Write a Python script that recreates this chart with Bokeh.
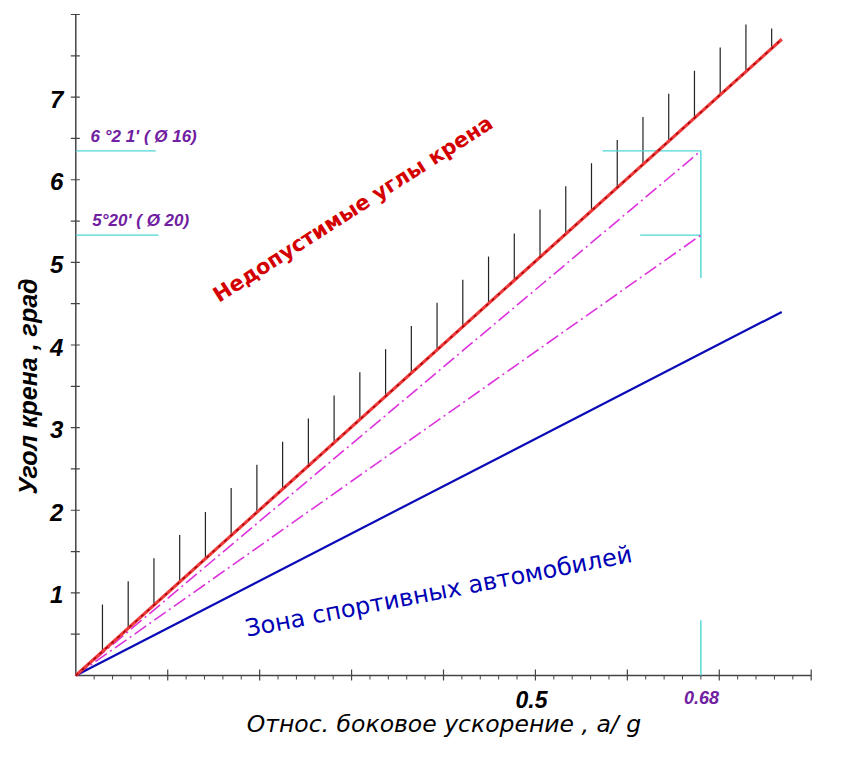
from bokeh.plotting import figure
from bokeh.models import Range1d, Label
from bokeh.core.properties import value
from bokeh.embed import file_html
from bokeh.resources import INLINE
import numpy as np

# ---------------- data ----------------
# relative lateral acceleration a/g  and roll angle (deg)
line_x = [0.0, 0.768]
limit_roll = [0.0, 7.70]          # boundary of inadmissible roll angles
sport_roll = [0.0, 4.40]          # sport-car zone
design_x = [0.0, 0.68]
roll_d16 = [0.0, 6.35]            # 6°21' (Ø16)
roll_d20 = [0.0, 5.33]            # 5°20' (Ø20)

hatch_x = [0.029, 0.057, 0.085, 0.113, 0.141, 0.169, 0.197, 0.225, 0.253,
           0.281, 0.309, 0.337, 0.365, 0.393, 0.421, 0.449, 0.477, 0.505,
           0.533, 0.561, 0.589, 0.617, 0.645, 0.673, 0.701, 0.729, 0.757]
hatch_top = [0.86, 1.14, 1.42, 1.70, 1.98, 2.27, 2.55, 2.83, 3.11,
             3.39, 3.67, 3.95, 4.23, 4.51, 4.79, 5.07, 5.35, 5.64,
             5.92, 6.20, 6.48, 6.76, 7.04, 7.32, 7.60, 7.88, 7.83]

# cyan construction lines
cyan_h_y = [6.35, 5.33, 6.35, 5.33]
cyan_h_x0 = [0.0, 0.0, 0.573, 0.614]
cyan_h_x1 = [0.087, 0.090, 0.68, 0.68]
cyan_v_x = [0.68, 0.68]
cyan_v_y0 = [6.35, 0.0]
cyan_v_y1 = [4.81, 0.67]

# axes
x_max = 0.8
y_max = 8.0
y_major = [1, 2, 3, 4, 5, 6, 7, 8]
y_minor = [0.5, 1.5, 2.5, 3.5, 4.5, 5.5, 6.5, 7.5]
y_tick_labels = ["1", "2", "3", "4", "5", "6", "7"]
x_major = [0.1, 0.2, 0.3, 0.4, 0.5, 0.6, 0.7, 0.8]
x_minor = [round(0.02 * i, 2) for i in range(1, 40) if i % 5]

# ---------------- figure ----------------
W, H = 829, 752
PX = 919.25      # pixels per unit a/g
PY = 82.625      # pixels per degree
X0, Y0 = 75.3, 675.0   # pixel position of origin

p = figure(width=W, height=H,
           x_range=Range1d(-X0 / PX, (W - X0) / PX),
           y_range=Range1d(-(H - Y0) / PY, Y0 / PY),
           output_backend="svg", toolbar_location=None, title=None, min_border=0)
p.outline_line_color = None
p.axis.visible = False
p.grid.visible = False
p.background_fill_color = "white"
p.border_fill_color = "white"

AX = "#444444"
BI_FONT = "Liberation Sans"


def dx(px):
    return px / PX


def dy(px):
    return px / PY


# axis lines
p.segment(x0=[0, 0], y0=[0, 0], x1=[0, x_max], y1=[y_max, 0], line_color=AX, line_width=1.5)
# y ticks (crossing)
p.segment(x0=[-dx(5)] * len(y_major + y_minor), y0=y_major + y_minor,
          x1=[dx(4)] * len(y_major + y_minor), y1=y_major + y_minor,
          line_color=AX, line_width=1.2)
# x ticks
p.segment(x0=x_major, y0=[-dy(5)] * len(x_major), x1=x_major, y1=[dy(6)] * len(x_major),
          line_color=AX, line_width=1.2)
p.segment(x0=x_minor, y0=[-dy(4)] * len(x_minor), x1=x_minor, y1=[0] * len(x_minor),
          line_color=AX, line_width=1.0)

# y tick labels
p.text(x=[-dx(12.5)] * len(y_tick_labels), y=[v - dy(2) for v in y_major[:7]],
       text=y_tick_labels, text_align="right", text_baseline="middle",
       text_font=value(BI_FONT), text_font_style="bold italic",
       text_font_size="24px", text_color="black")

# ---------------- lines ----------------
hatch_bottom = list(np.interp(hatch_x, line_x, limit_roll))
p.segment(x0=hatch_x, y0=hatch_bottom, x1=hatch_x, y1=hatch_top,
          line_color="#222222", line_width=1.2)

p.segment(x0=cyan_h_x0, y0=cyan_h_y, x1=cyan_h_x1, y1=cyan_h_y,
          line_color="#4fd6d6", line_width=1.4)
p.segment(x0=cyan_v_x, y0=cyan_v_y0, x1=cyan_v_x, y1=cyan_v_y1,
          line_color="#4fd6d6", line_width=1.4)

p.line(design_x, roll_d16, line_color="#dd33dd", line_width=1.6, line_dash="14 4 2 4")
p.line(design_x, roll_d20, line_color="#dd33dd", line_width=1.6, line_dash="14 4 2 4")

p.line(line_x, sport_roll, line_color="#0a0ab8", line_width=2.2)

p.line(line_x, limit_roll, line_color="#ee3a3a", line_width=3.2)
p.line(line_x, limit_roll, line_color="#a00000", line_width=1.4, line_dash="3 5")

# ---------------- texts ----------------
def lab(x, y, text, **kw):
    p.add_layout(Label(x=x, y=y, text=text, **kw))


lab(0.4958, -dy(24), "0.5", text_align="center", text_baseline="middle",
    text_font=BI_FONT, text_font_style="bold italic", text_font_size="23px", text_color="black")
lab(0.6807, -dy(22), "0.68", text_align="center", text_baseline="middle",
    text_font=BI_FONT, text_font_style="bold italic", text_font_size="18px", text_color="#7020a0")
lab(0.4005, -dy(48), "Относ. боковое ускорение , a/ g", text_align="center",
    text_baseline="alphabetic", text_font="DejaVu Sans", text_font_style="italic",
    text_font_size="23.5px", text_color="black")
lab(-dx(48.3), dy(289), "Угол крена , град", angle=np.pi / 2,
    text_align="center", text_baseline="middle",
    text_font=BI_FONT, text_font_style="bold italic", text_font_size="25px", text_color="black")

lab(0.016, 6.525, "6 °2 1' ( Ø 16)", text_align="left", text_baseline="middle",
    text_font=BI_FONT, text_font_style="bold italic", text_font_size="17px", text_color="#7020a0")
lab(0.018, 5.507, "5°20' ( Ø 20)", text_align="left", text_baseline="middle",
    text_font=BI_FONT, text_font_style="bold italic", text_font_size="17px", text_color="#7020a0")

lab(0.3016, 5.646, "Недопустимые углы крена", angle=32.6, angle_units="deg",
    text_align="center", text_baseline="middle",
    text_font="DejaVu Sans", text_font_style="bold", text_font_size="21px", text_color="#d40000")
lab(0.3946, 1.017, "Зона спортивных автомобилей", angle=11.0, angle_units="deg",
    text_align="center", text_baseline="middle",
    text_font="DejaVu Sans", text_font_style="normal", text_font_size="24px", text_color="#0000b4")

open("out.html", "w").write(file_html(p, INLINE))
